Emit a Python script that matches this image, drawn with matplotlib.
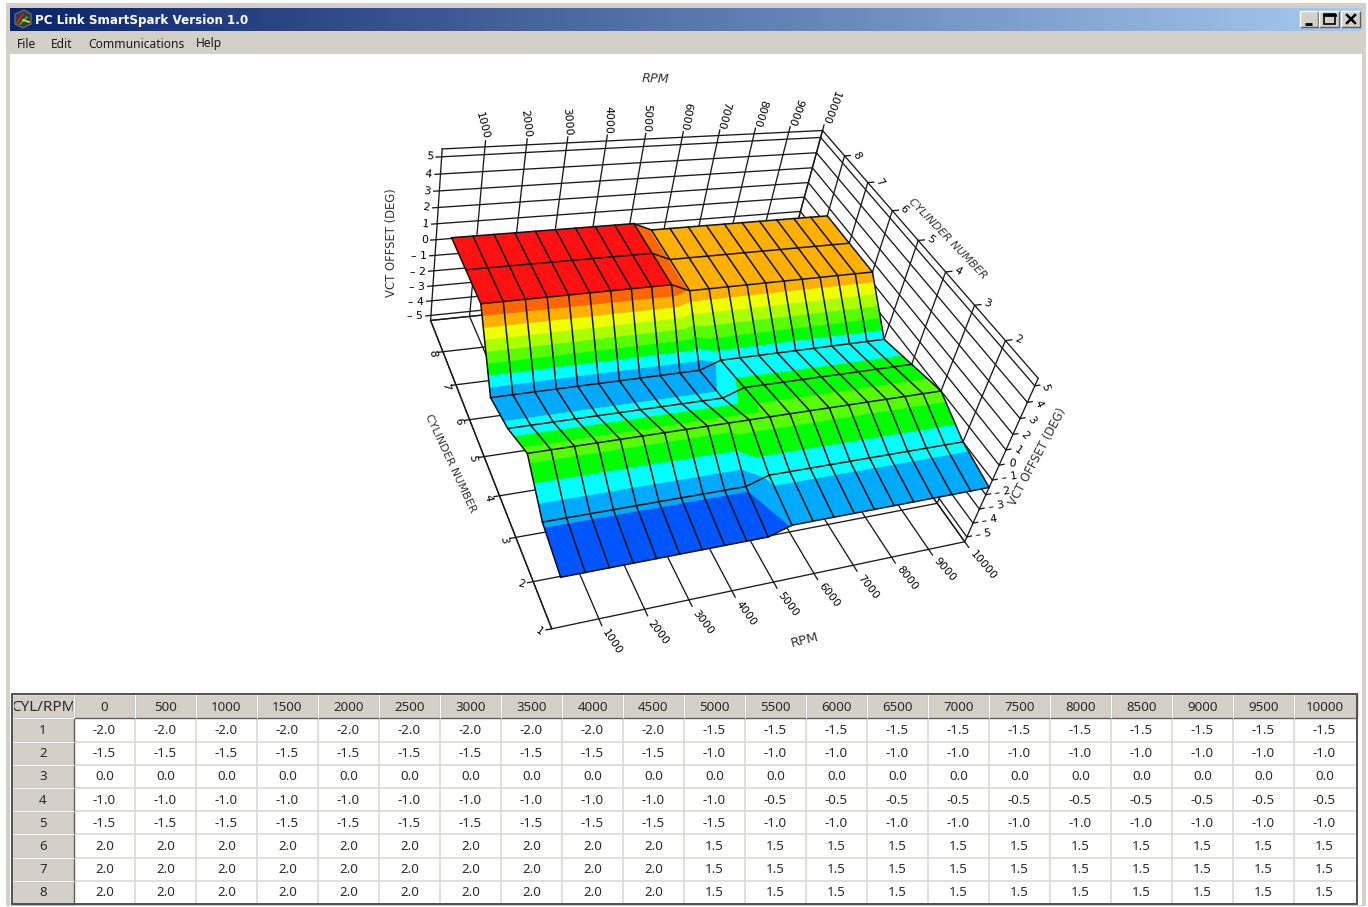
import matplotlib as mpl
mpl.use('Agg')
import matplotlib.pyplot as plt
import numpy as np
from matplotlib.patches import Rectangle, Polygon
from mpl_toolkits.mplot3d import proj3d
from mpl_toolkits.mplot3d.art3d import Poly3DCollection

# table data
rpm_axis = [0, 500, 1000, 1500, 2000, 2500, 3000, 3500, 4000, 4500, 5000, 5500, 6000, 6500, 7000, 7500, 8000, 8500, 9000, 9500, 10000]
cyl_axis = [1, 2, 3, 4, 5, 6, 7, 8]
cyl1 = [-2.0]*10 + [-1.5]*11
cyl2 = [-1.5]*10 + [-1.0]*11
cyl3 = [0.0]*21
cyl4 = [-1.0]*11 + [-0.5]*10
cyl5 = [-1.5]*11 + [-1.0]*10
cyl6 = [2.0]*10 + [1.5]*11
cyl7 = [2.0]*10 + [1.5]*11
cyl8 = [2.0]*10 + [1.5]*11
rows = [cyl1, cyl2, cyl3, cyl4, cyl5, cyl6, cyl7, cyl8]

rpm_ticks = [1000, 2000, 3000, 4000, 5000, 6000, 7000, 8000, 9000, 10000]
z_ticks = [-5, -4, -3, -2, -1, 0, 1, 2, 3, 4, 5]
z_lo, z_hi = -5.35, 5.45
cyl_max = 9

# label angles, they turn a bit along each axis in the original
back_rot = [-75, -83, -86, -91, -93, -100, -105, -107, -110, -111]
front_rot = [-57, -53, -53, -54, -53, -52, -52, -52, -49, -50]
left_cyl_rot = [-35, -15, -80, -80, -85, -85, -85, -85]
right_cyl_rot = [-20, -20, -30, -35, -45, -55, -60]
right_z_rot = [8, 8, 8, 8, 8, -8, -35, -45, -55, -65, -72]

band_colors = ['#0055ff', '#00aaff', '#00ffff', '#00ff00', '#55ff00', '#aaff00', '#eeff00', '#ffb000', '#ff6600', '#ff1111']
band_levels = np.linspace(-2, 2, 10)

# camera found by fitting the frame corners
ELEV, AZIM, ROLL = 37.570, -121.273, -13.328
FOCAL = np.exp(-0.9783)
ASPECT = (1, 1.0010, 0.4990)
SCALE, TX, TY = 3431.049, 705.106, 346.590

W, H = 1368, 907
fig = plt.figure(figsize=(W/100, H/100), dpi=100, facecolor='white')

# window chrome and table live on a pixel axes
ax0 = fig.add_axes([0, 0, 1, 1], zorder=-1)
ax0.set_xlim(0, W)
ax0.set_ylim(H, 0)
ax0.axis('off')

GRAY = '#d4d0c8'
ax0.add_patch(Rectangle((6, 3), 1360, 903, fc=GRAY, ec='none'))
ax0.add_patch(Rectangle((10, 54), 1352, 851, fc='white', ec='none'))
cm = mpl.colors.LinearSegmentedColormap.from_list('title', ['#0a246a', '#a6caf0'])
ax0.imshow(np.linspace(0, 1, 256).reshape(1, -1), cmap=cm, extent=(10, 1362, 31, 8), aspect='auto', zorder=1)
ax0.set_xlim(0, W)
ax0.set_ylim(H, 0)
ax0.text(35, 24, 'PC Link SmartSpark Version 1.0', color='white', fontsize=8.6, fontweight='bold',
         family='DejaVu Sans', va='baseline', zorder=3)

# little program icon
ax0.add_patch(Polygon([(15, 14), (24, 10), (31, 14), (31, 24), (23, 28), (15, 24)], fc='#3a3a3a', ec='#888888', lw=0.6, zorder=3))
ax0.plot([17, 23], [23, 14], color='#e02020', lw=1.2, zorder=4)
ax0.plot([20, 27], [24, 17], color='#20c020', lw=1.2, zorder=4)
ax0.plot([23, 29], [20, 22], color='#e8e020', lw=1.2, zorder=4)

for name, x in [('File', 17), ('Edit', 51), ('Communications', 88), ('Help', 196)]:
    ax0.text(x, 47.5, name, fontsize=8.7, family='Noto Sans', color='#1a1a1a', va='baseline')

def bevel(x0, y0, x1, y1, z=2):
    ax0.add_patch(Rectangle((x0, y0), x1 - x0, y1 - y0, fc=GRAY, ec='none', zorder=z))
    ax0.plot([x0, x1, x1], [y1, y1, y0], color='#606060', lw=1, zorder=z + .1, solid_capstyle='butt')
    ax0.plot([x0, x0, x1], [y1, y0, y0], color='white', lw=1, zorder=z + .1, solid_capstyle='butt')

# min / max / close buttons
bevel(1300, 11, 1318, 27, z=3)
bevel(1319, 11, 1339, 27, z=3)
bevel(1341, 11, 1360, 27, z=3)
ax0.plot([1305, 1312], [23.5, 23.5], color='black', lw=2, zorder=4, solid_capstyle='butt')
ax0.add_patch(Rectangle((1323.5, 14), 11, 10, fc='none', ec='black', lw=1.2, zorder=4))
ax0.plot([1323.5, 1334.5], [14.5, 14.5], color='black', lw=2, zorder=4)
ax0.plot([1347, 1355], [15, 23], color='black', lw=1.8, zorder=4)
ax0.plot([1347, 1355], [23, 15], color='black', lw=1.8, zorder=4)

# table
tab_x0, tab_first, col_w, tab_x1 = 12, 74, 61, 1357
row_tops = [694, 718, 741.5, 764.5, 787.5, 811, 834, 857.5, 880.5, 903.5]
col_edges = [tab_first + col_w*i for i in range(len(rpm_axis))] + [tab_x1]
text_col = '#2a2a2a'
grid_col = '#dcd9d2'
cell_kw = dict(fontsize=9.6, family='Noto Sans', ha='center', va='center', color=text_col, zorder=3)
for y in row_tops[2:-1]:
    ax0.plot([tab_first, tab_x1], [y, y], color=grid_col, lw=1.2, zorder=2)
for x in col_edges[1:-1]:
    ax0.plot([x, x], [row_tops[1], row_tops[-1]], color=grid_col, lw=1.2, zorder=2)

bevel(tab_x0, row_tops[0], tab_first, row_tops[1])
# header text is cut by its cell in the original
clip_cell = Rectangle((tab_x0 + 2, row_tops[0]), tab_first - tab_x0 - 3, 24, transform=ax0.transData)
t = ax0.text((tab_x0 + tab_first)/2, 707.5, 'CYL/RPM', fontsize=11, family='Noto Sans', ha='center', va='center', color=text_col, zorder=3)
t.set_clip_path(clip_cell)
t.set_clip_on(True)
for i, r in enumerate(rpm_axis):
    bevel(col_edges[i], row_tops[0], col_edges[i+1], row_tops[1])
    ax0.text(col_edges[i] + col_w/2, 707.5, str(r), **cell_kw)
for j, c in enumerate(cyl_axis):
    ym = (row_tops[j+1] + row_tops[j+2])/2 + 0.8
    bevel(tab_x0, row_tops[j+1], tab_first, row_tops[j+2])
    ax0.text((tab_x0 + tab_first)/2, ym, str(c), **cell_kw)
    for i in range(len(rpm_axis)):
        ax0.text(col_edges[i] + col_w/2, ym, '%.1f' % rows[j][i], **cell_kw)
ax0.add_patch(Rectangle((tab_x0, row_tops[0]), tab_x1 - tab_x0, row_tops[-1] - row_tops[0], fc='none', ec='#505050', lw=1.4, zorder=5))

# axis titles
title_kw = dict(color='#333333', ha='center', va='center', family='DejaVu Sans', rotation_mode='anchor')
ax0.text(656, 79, 'RPM', style='italic', rotation=-2, fontsize=9.2, **title_kw)
ax0.text(805, 640, 'RPM', rotation=14, fontsize=9.6, **title_kw)
ax0.text(392, 243, 'VCT OFFSET (DEG)', rotation=90, fontsize=8.4, **title_kw)
ax0.text(1038, 457, 'VCT OFFSET (DEG)', rotation=62, fontsize=8.4, **title_kw)
ax0.text(450, 463, 'CYLINDER NUMBER', rotation=-65, fontsize=8, **title_kw)
ax0.text(948, 239, 'CYLINDER NUMBER', rotation=-46, style='italic', fontsize=8, **title_kw)

# 3d chart
ax = fig.add_axes([0, 0, 1, 1], projection='3d', computed_zorder=False)
ax.patch.set_alpha(0)
ax.set_axis_off()
ax.set_xlim(0, 10000, view_margin=0)
ax.set_ylim(1, cyl_max, view_margin=0)
ax.set_zlim(z_lo, z_hi, view_margin=0)
ax.view_init(ELEV, AZIM, ROLL)
ax.set_proj_type('persp', focal_length=FOCAL)
ax.set_box_aspect(ASPECT)
vl = ax.viewLim
left = TX + SCALE*vl.x0
top = TY - SCALE*vl.y1
size = SCALE*(vl.x1 - vl.x0)
ax.set_position([left/W, (H - top - size)/H, size/W, size/H])

line_kw = dict(color='#1a1a1a', lw=0.95, zorder=1, clip_on=False)
# back wall, right wall
for z in z_ticks + [z_lo, z_hi]:
    ax.plot([0, 10000], [cyl_max, cyl_max], [z, z], **line_kw)
    ax.plot([10000, 10000], [1, cyl_max], [z, z], **line_kw)
for r in [0] + rpm_ticks:
    ax.plot([r, r], [cyl_max, cyl_max], [z_lo, z_hi + (0.35 if r else 0)], **line_kw)
    ax.plot([r, r], [1 - (0.14 if r else 0), cyl_max], [z_lo, z_lo], **line_kw)
for c in cyl_axis + [cyl_max]:
    ax.plot([0 - (120 if c < cyl_max else 0), 10000], [c, c], [z_lo, z_lo], **line_kw)
    ax.plot([10000, 10000], [c, c], [z_lo, z_hi], **line_kw)
    if 1 < c < cyl_max:
        ax.plot([10000, 10170], [c, c], [z_hi, z_hi], **line_kw)
# z ticks on both upright edges
for z in z_ticks:
    ax.plot([-130, 0], [cyl_max, cyl_max], [z, z], **line_kw)
    ax.plot([10000, 10130], [1, 1], [z, z], **line_kw)
ax.plot([0, 0], [1, cyl_max], [z_lo, z_lo], **line_kw)

# Text3D drops rotation, so labels are placed in the projected view coordinates
M = ax.get_proj()
label_kw = dict(fontsize=7.8, color='black', family='DejaVu Sans', rotation_mode='anchor', transform=ax.transData)

def put_label(x, y, z, s, **kw):
    X, Y, _ = proj3d.proj_transform(x, y, z, M)
    ax.text2D(X, Y, s, **label_kw, **kw)

for r, rot in zip(rpm_ticks, back_rot):
    put_label(r, cyl_max, z_hi + 0.45, str(r), rotation=rot, ha='right', va='center')
for r, rot in zip(rpm_ticks, front_rot):
    put_label(r, 0.75, z_lo, str(r), rotation=rot, ha='left', va='center')
for c, rot in zip(cyl_axis, left_cyl_rot):
    put_label(-260, c, z_lo, str(c), rotation=rot, ha='center', va='center')
for c, rot in zip(cyl_axis[1:], right_cyl_rot):
    put_label(10340, c, z_hi, str(c), rotation=rot, ha='center', va='center')
for z in z_ticks:
    s = '%d' % z if z >= 0 else '\u2013 %d' % -z
    put_label(-200, cyl_max, z, s, rotation=-6 if z > 0 else 0, ha='right', va='center')
for z, rot in zip(z_ticks, right_z_rot):
    s = '%d' % z if z >= 0 else '\u2013 %d' % -z
    put_label(10250, 1, z, s, rotation=rot, ha='left', va='center')

# surface, split in height bands
Z = np.array(rows)
polys, cols = [], []

def clip(poly, level, above):
    out = []
    for a, b in zip(poly, poly[1:] + poly[:1]):
        fa, fb = a[2] - level, b[2] - level
        if not above:
            fa, fb = -fa, -fb
        if fa >= 0:
            out.append(a)
        if fa*fb < 0:
            t = fa/(fa - fb)
            out.append(tuple(a[n] + t*(b[n] - a[n]) for n in range(3)))
    return out

def flat_color(z):
    if z >= 2:
        return band_colors[-1]
    return band_colors[max(int(np.searchsorted(band_levels, z, side='left')) - 1, 0)]

for j in range(len(cyl_axis) - 1):
    for i in range(len(rpm_axis) - 1):
        a = (rpm_axis[i], cyl_axis[j], Z[j, i])
        b = (rpm_axis[i+1], cyl_axis[j], Z[j, i+1])
        c = (rpm_axis[i], cyl_axis[j+1], Z[j+1, i])
        d = (rpm_axis[i+1], cyl_axis[j+1], Z[j+1, i+1])
        for tri in ([a, b, c], [b, d, c]):
            zs = [q[2] for q in tri]
            if max(zs) == min(zs):
                polys.append(tri)
                cols.append(flat_color(zs[0]))
                continue
            for k, col in enumerate(band_colors):
                lo = band_levels[k] if k > 0 else -9
                hi = band_levels[k+1] if k + 1 < len(band_levels) else 9
                piece = clip(tri, lo, True)
                if len(piece) >= 3:
                    piece = clip(piece, hi, False)
                if len(piece) >= 3:
                    polys.append(piece)
                    cols.append(col)

surf = Poly3DCollection(polys, facecolors=cols, edgecolors=cols, linewidths=0.4, zorder=2, clip_on=False)
ax.add_collection3d(surf)

for j, c in enumerate(cyl_axis):
    ax.plot(rpm_axis, [c]*len(rpm_axis), Z[j], color='#111111', lw=1.1, zorder=3, clip_on=False)
for i, r in enumerate(rpm_axis):
    ax.plot([r]*len(cyl_axis), cyl_axis, Z[:, i], color='#111111', lw=1.1, zorder=3, clip_on=False)

fig.savefig('out.png', dpi=100)
